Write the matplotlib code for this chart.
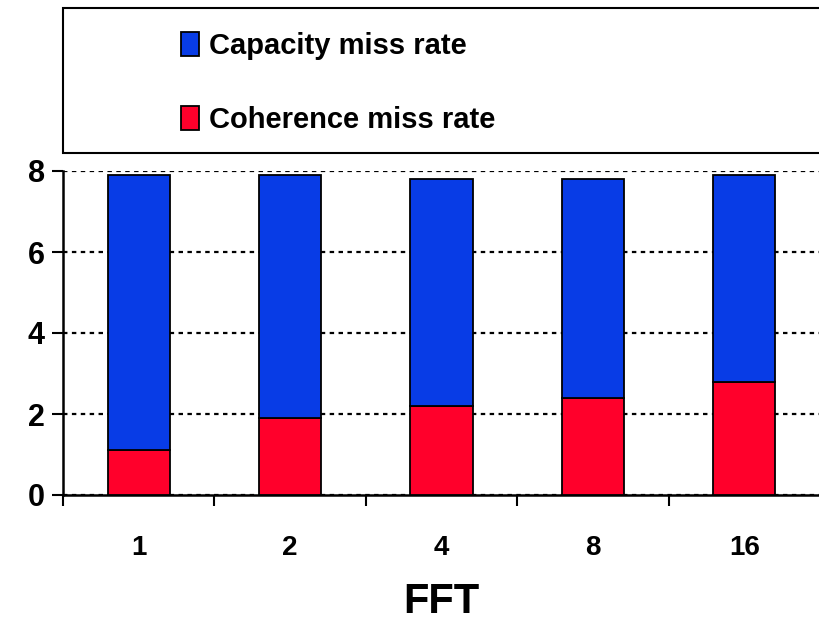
import matplotlib
matplotlib.use("Agg")
import matplotlib.pyplot as plt
from matplotlib.patches import Rectangle, Patch

categories = ["1", "2", "4", "8", "16"]
coherence = [1.1, 1.9, 2.2, 2.4, 2.8]
capacity = [6.8, 6.0, 5.6, 5.4, 5.1]
yticks = [0, 2, 4, 6, 8]
xlabel = "FFT"
series_names = ["Capacity miss rate", "Coherence miss rate"]
blue = "#083CE6"
red = "#FF002B"

normal = ['Liberation Sans', 'DejaVu Sans']
plt.rcParams['font.family'] = normal
plt.rcParams['font.weight'] = 'bold'

fig = plt.figure(figsize=(8.2, 6.23), dpi=100)
ax = fig.add_axes([63/820, 1-495/623, 1-63/820, (495-171)/623])

x = list(range(len(categories)))
ax.bar(x, coherence, width=0.41, color=red, edgecolor="black", linewidth=1.3, zorder=3)
ax.bar(x, capacity, bottom=coherence, width=0.41, color=blue, edgecolor="black", linewidth=1.3, zorder=3)

ax.set_xlim(-0.5, len(categories)-0.5)
ax.set_ylim(0, 8)
ax.set_yticks(yticks)
ax.set_yticklabels([str(t) for t in yticks], fontsize=22, fontweight='bold')
ax.set_xticks([i + 0.5 for i in range(len(categories)-1)] + [-0.5])
ax.set_xticklabels([])
ax.set_xticks(x, minor=True)
ax.set_xticklabels(categories, minor=True, fontsize=20, fontweight='bold')
ax.tick_params(axis='x', which='major', length=8, width=1.5, direction='out')
ax.tick_params(axis='x', which='minor', length=0, pad=29)
ax.tick_params(axis='y', length=8, width=1.5, direction='out', pad=5)
ax.set_xlabel(xlabel, fontsize=30, fontweight='bold', labelpad=15)

for s in ['top', 'right']:
    ax.spines[s].set_visible(False)
for s in ['left', 'bottom']:
    ax.spines[s].set_linewidth(1.8)

ax.yaxis.grid(True, linestyle=(0, (2, 2)), color='black', linewidth=1.6, zorder=0)
ax.set_axisbelow(True)

# legend box
fig.patches.append(Rectangle((63/820, 1-153/623), 1-63/820 + 0.01, (153-8)/623,
                             transform=fig.transFigure, facecolor='white',
                             edgecolor='black', linewidth=1.5, zorder=0))
handles = [Patch(facecolor=blue, edgecolor='black', linewidth=1.3),
           Patch(facecolor=red, edgecolor='black', linewidth=1.3)]
fig.legend(handles, series_names, loc='center left', bbox_to_anchor=(181/820, 1-83/623),
           frameon=False, prop={'size': 21, 'weight': 'bold'},
           handlelength=0.62, handleheight=0.9, handletextpad=0.34, labelspacing=1.55,
           borderpad=0, borderaxespad=0)

fig.savefig("out.png", dpi=100)
